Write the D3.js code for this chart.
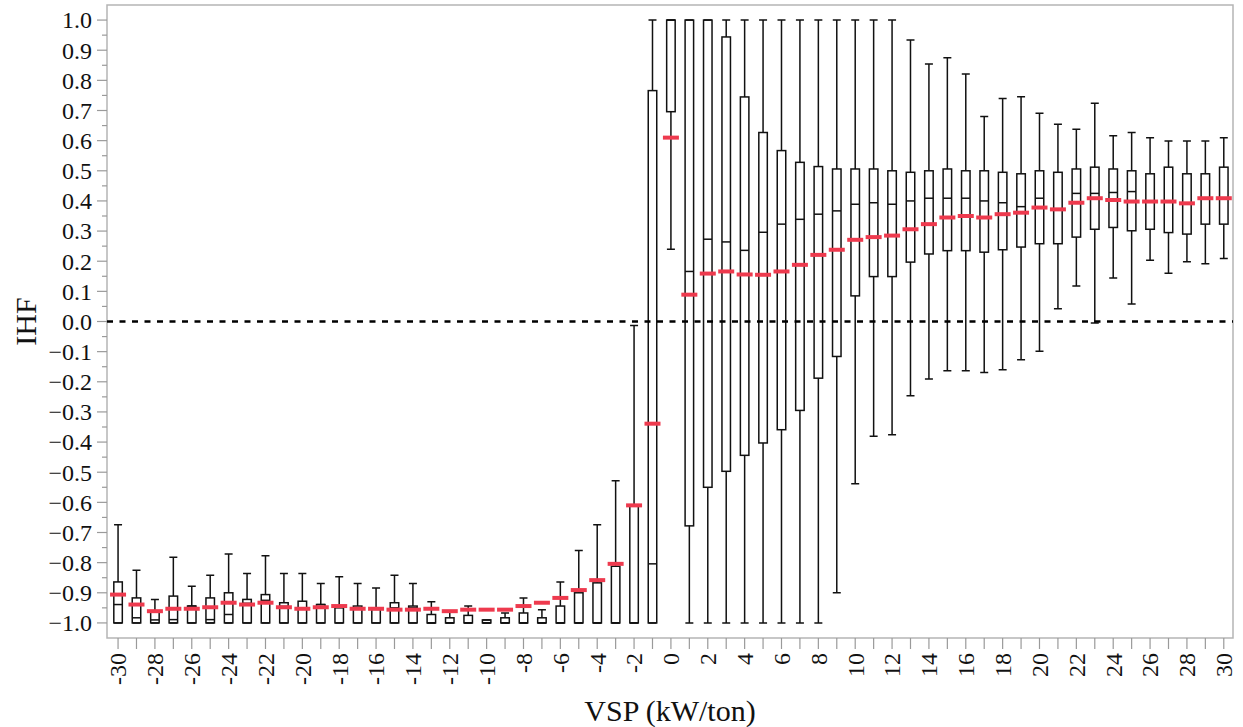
<!DOCTYPE html>
<html>
<head>
<meta charset="utf-8">
<script src="https://cdn.jsdelivr.net/npm/d3@7"></script>
<style>
  body { margin: 0; background: #fff; }
  svg { display: block; }
  text { font-family: "Liberation Serif", "Times New Roman", serif; fill: #111; }
</style>
</head>
<body>
<svg id="chart"></svg>
<script>
// VSP bins (kW/ton)
const vsp = [-30, -29, -28, -27, -26, -25, -24, -23, -22, -21, -20, -19, -18, -17, -16, -15, -14, -13, -12, -11,
  -10, -9, -8, -7, -6, -5, -4, -3, -2, -1, 0, 1, 2, 3, 4, 5, 6, 7, 8, 9,
  10, 11, 12, 13, 14, 15, 16, 17, 18, 19, 20, 21, 22, 23, 24, 25, 26, 27, 28, 29, 30];

// box plot statistics of IHF per bin
const whiskerHi = [-0.674, -0.825, -0.922, -0.782, -0.878, -0.842, -0.771, -0.836, -0.777, -0.836, -0.836, -0.869, -0.847, -0.869, -0.884, -0.842, -0.869, -0.930, -0.962, -0.944,
  -0.990, -0.967, -0.917, -0.956, -0.864, -0.760, -0.674, -0.528, -0.013, 1.0, 1.0, 1.0, 1.0, 1.0, 1.0, 1.0, 1.0, 1.0, 1.0, 1.0,
  1.0, 1.0, 1.0, 0.934, 0.854, 0.875, 0.821, 0.680, 0.740, 0.746, 0.691, 0.654, 0.638, 0.724, 0.616, 0.627, 0.610, 0.599, 0.599, 0.599, 0.610];
const q3 = [-0.864, -0.917, -0.960, -0.911, -0.944, -0.917, -0.900, -0.922, -0.906, -0.933, -0.928, -0.939, -0.945, -0.944, -0.950, -0.933, -0.944, -0.972, -0.983, -0.975,
  -0.990, -0.983, -0.967, -0.983, -0.944, -0.900, -0.867, -0.812, -0.610, 0.766, 1.0, 1.0, 1.0, 0.944, 0.745, 0.627, 0.567, 0.528, 0.514, 0.506,
  0.506, 0.506, 0.500, 0.495, 0.500, 0.506, 0.500, 0.500, 0.495, 0.490, 0.500, 0.495, 0.506, 0.512, 0.506, 0.500, 0.490, 0.512, 0.490, 0.490, 0.512];
const median = [-0.939, -0.983, -0.990, -0.989, -0.944, -0.989, -0.972, -0.935, -0.925, -0.945, -0.950, -0.939, -0.950, -0.950, -0.955, -0.950, -0.950, -1.0, -1.0, -1.0,
  -1.0, -1.0, -1.0, -1.0, -1.0, -1.0, -1.0, -1.0, -1.0, -0.804, 1.0, 0.166, 0.273, 0.264, 0.236, 0.296, 0.323, 0.339, 0.356, 0.367,
  0.389, 0.394, 0.389, 0.400, 0.409, 0.409, 0.409, 0.400, 0.394, 0.381, 0.409, 0.372, 0.425, 0.425, 0.428, 0.431, 0.398, 0.398, 0.392, 0.409, 0.409];
const q1 = [-1.0, -1.0, -1.0, -1.0, -1.0, -1.0, -1.0, -1.0, -1.0, -1.0, -1.0, -1.0, -1.0, -1.0, -1.0, -1.0, -1.0, -1.0, -1.0, -1.0,
  -1.0, -1.0, -1.0, -1.0, -1.0, -1.0, -1.0, -1.0, -1.0, -1.0, 0.696, -0.678, -0.550, -0.497, -0.444, -0.403, -0.359, -0.295, -0.188, -0.116,
  0.085, 0.149, 0.149, 0.197, 0.224, 0.235, 0.235, 0.230, 0.238, 0.247, 0.258, 0.258, 0.280, 0.306, 0.312, 0.301, 0.306, 0.295, 0.290, 0.323, 0.323];
const whiskerLo = [-1.0, -1.0, -1.0, -1.0, -1.0, -1.0, -1.0, -1.0, -1.0, -1.0, -1.0, -1.0, -1.0, -1.0, -1.0, -1.0, -1.0, -1.0, -1.0, -1.0,
  -1.0, -1.0, -1.0, -1.0, -1.0, -1.0, -1.0, -1.0, -1.0, -1.0, 0.240, -1.0, -1.0, -1.0, -1.0, -1.0, -1.0, -1.0, -1.0, -0.900,
  -0.538, -0.381, -0.376, -0.246, -0.191, -0.163, -0.163, -0.169, -0.160, -0.127, -0.099, 0.042, 0.118, -0.005, 0.144, 0.058, 0.203, 0.160, 0.198, 0.192, 0.209];
const mean = [-0.906, -0.939, -0.961, -0.953, -0.953, -0.948, -0.933, -0.939, -0.933, -0.948, -0.953, -0.948, -0.944, -0.953, -0.953, -0.956, -0.956, -0.953, -0.961, -0.956,
  -0.956, -0.956, -0.944, -0.933, -0.917, -0.891, -0.858, -0.804, -0.610, -0.339, 0.610, 0.089, 0.159, 0.166, 0.156, 0.155, 0.166, 0.188, 0.221, 0.238,
  0.271, 0.280, 0.285, 0.306, 0.323, 0.345, 0.350, 0.345, 0.356, 0.361, 0.378, 0.372, 0.394, 0.409, 0.403, 0.398, 0.398, 0.398, 0.392, 0.409, 0.409];

const xTickLabels = vsp.filter(v => v % 2 === 0);
const yTicks = d3.range(-10, 11).map(i => i / 10);

const width = 1243, height = 727;
const plotLeft = 107, plotRight = 1233, plotTop = 5, plotBottom = 638;

const svg = d3.select("#chart")
  .attr("width", width)
  .attr("height", height);

const x = d3.scaleLinear().domain([-30.6, 30.5]).range([plotLeft, plotRight]);
const y = d3.scaleLinear().domain([-1.05, 1.05]).range([plotBottom, plotTop]);

const data = vsp.map((v, i) => ({
  v, hi: whiskerHi[i], q3: q3[i], med: median[i], q1: q1[i], lo: whiskerLo[i], mean: mean[i]
}));

// frame
svg.append("rect")
  .attr("x", plotLeft).attr("y", plotTop)
  .attr("width", plotRight - plotLeft).attr("height", plotBottom - plotTop)
  .attr("fill", "none")
  .attr("stroke", "#b5b5b5")
  .attr("stroke-width", 1.5);

// y axis ticks
const yAxis = svg.append("g").attr("transform", `translate(${plotLeft},0)`);
yAxis.selectAll("line.major")
  .data(yTicks)
  .join("line")
  .attr("class", "major")
  .attr("x1", -10).attr("x2", 0)
  .attr("y1", d => y(d)).attr("y2", d => y(d))
  .attr("stroke", "#9a9a9a").attr("stroke-width", 1.2);
yAxis.selectAll("line.minor")
  .data(yTicks.slice(0, -1).map(d => d + 0.05))
  .join("line")
  .attr("class", "minor")
  .attr("x1", -5).attr("x2", 0)
  .attr("y1", d => y(d)).attr("y2", d => y(d))
  .attr("stroke", "#9a9a9a").attr("stroke-width", 1.2);
yAxis.selectAll("text")
  .data(yTicks)
  .join("text")
  .attr("x", -15)
  .attr("y", d => y(d))
  .attr("dy", "0.35em")
  .attr("text-anchor", "end")
  .style("font-size", "24px")
  .text(d => d3.format(".1f")(d));

// x axis ticks
const xAxis = svg.append("g").attr("transform", `translate(0,${plotBottom})`);
xAxis.selectAll("line")
  .data(vsp)
  .join("line")
  .attr("x1", d => x(d)).attr("x2", d => x(d))
  .attr("y1", 0).attr("y2", 11)
  .attr("stroke", "#9a9a9a").attr("stroke-width", 1.2);
xAxis.selectAll("text")
  .data(xTickLabels)
  .join("text")
  .attr("transform", d => `translate(${x(d)},15) rotate(-90)`)
  .attr("dy", "0.35em")
  .attr("text-anchor", "end")
  .style("font-size", "24px")
  .text(d => d);

// axis titles
svg.append("text")
  .attr("transform", `translate(36,${y(0)}) rotate(-90)`)
  .attr("text-anchor", "middle")
  .style("font-size", "30px")
  .text("IHF");
svg.append("text")
  .attr("x", 670)
  .attr("y", 721)
  .attr("text-anchor", "middle")
  .style("font-size", "30px")
  .text("VSP (kW/ton)");

const boxW = 8.5, capW = 8, meanW = 16;
const g = svg.append("g");

// whiskers
g.selectAll("path.whisker")
  .data(data)
  .join("path")
  .attr("class", "whisker")
  .attr("d", d => {
    const cx = x(d.v);
    return `M${cx},${y(d.q3)}V${y(d.hi)}M${cx - capW / 2},${y(d.hi)}H${cx + capW / 2}` +
      `M${cx},${y(d.q1)}V${y(d.lo)}M${cx - capW / 2},${y(d.lo)}H${cx + capW / 2}`;
  })
  .attr("fill", "none")
  .attr("stroke", "#111")
  .attr("stroke-width", 1.5);

// boxes
g.selectAll("rect.box")
  .data(data)
  .join("rect")
  .attr("class", "box")
  .attr("x", d => x(d.v) - boxW / 2)
  .attr("y", d => y(d.q3))
  .attr("width", boxW)
  .attr("height", d => Math.max(1, y(d.q1) - y(d.q3)))
  .attr("fill", "none")
  .attr("stroke", "#111")
  .attr("stroke-width", 1.5);

// medians
g.selectAll("line.median")
  .data(data)
  .join("line")
  .attr("class", "median")
  .attr("x1", d => x(d.v) - boxW / 2).attr("x2", d => x(d.v) + boxW / 2)
  .attr("y1", d => y(d.med)).attr("y2", d => y(d.med))
  .attr("stroke", "#111")
  .attr("stroke-width", 1.5);

// zero reference
svg.append("line")
  .attr("x1", plotLeft).attr("x2", plotRight)
  .attr("y1", y(0)).attr("y2", y(0))
  .attr("stroke", "#000")
  .attr("stroke-width", 2.5)
  .attr("stroke-dasharray", "6,6.5");

// means
svg.append("g").selectAll("line")
  .data(data)
  .join("line")
  .attr("x1", d => x(d.v) - meanW / 2).attr("x2", d => x(d.v) + meanW / 2)
  .attr("y1", d => y(d.mean)).attr("y2", d => y(d.mean))
  .attr("stroke", "#ee3a4e")
  .attr("stroke-width", 4);
</script>
</body>
</html>
